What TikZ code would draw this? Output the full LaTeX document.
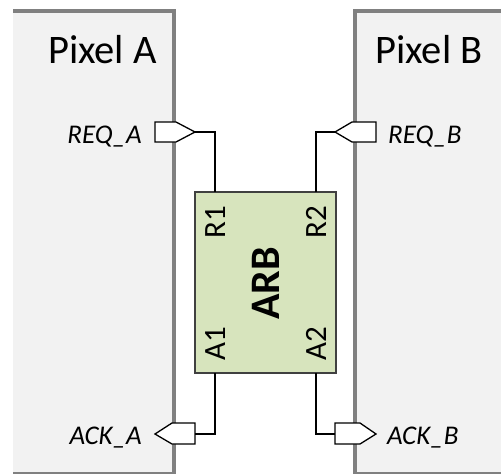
\documentclass[tikz,border=0pt]{standalone}
\usepackage{fontspec}
\setmainfont{Carlito}
\begin{document}
\begin{tikzpicture}[x=1pt,y=-1pt,
  pixbox/.style={fill=pixfill,draw=none},
  pixborder/.style={draw=pixline,line width=3.5pt},
  port/.style={draw=black,fill=white,line width=1.3pt,line join=miter},
  wire/.style={draw=black,line width=1.3pt},
  pixlabel/.style={font=\fontsize{40.5}{44}\selectfont,inner sep=0pt},
  siglabel/.style={font=\fontsize{27}{31}\selectfont\itshape,inner sep=0pt},
  pinlabel/.style={font=\fontsize{31}{35}\selectfont,inner sep=0pt,rotate=90},
  arbbox/.style={draw=arbline,fill=arbfill,line width=1.3pt,minimum width=141pt,minimum height=181pt,inner sep=0pt}
]
\definecolor{pixfill}{HTML}{F2F2F2}
\definecolor{pixline}{HTML}{808080}
\definecolor{arbfill}{HTML}{D7E4BD}
\definecolor{arbline}{HTML}{404040}
\useasboundingbox (0,0) rectangle (501,474);
\clip (0,0) rectangle (501,474);
% Pixel A
\fill[pixbox] (13,11) rectangle (174,473.5);
\draw[pixborder] (13,11) -- (174,11) -- (174,473.5) -- (13,473.5);
% Pixel B
\fill[pixbox] (355,11) rectangle (512,473.5);
\draw[pixborder] (512,11) -- (355,11) -- (355,473.5) -- (512,473.5);
\node[pixlabel,anchor=base east] (pa) at (157,63) {Pixel A};
\node[pixlabel,anchor=base west] (pb) at (375,63) {Pixel B};
% ARB
\node[arbbox] (arb) at (265.5,282.5) {};
\node[font=\fontsize{42}{46}\selectfont\bfseries,rotate=90,inner sep=0pt] (arbl) at (265.5,283.5) {ARB};
\node[pinlabel] (r1) at (215.5,222) {R1};
\node[pinlabel] (r2) at (316,222) {R2};
\node[pinlabel] (a1) at (215.5,343.5) {A1};
\node[pinlabel] (a2) at (316,343.5) {A2};
\coordinate (r1p) at (215,192);
\coordinate (r2p) at (316,192);
\coordinate (a1p) at (215,373);
\coordinate (a2p) at (316,373);
% ports
\draw[port] (155,122) -- (176,122) -- (195,132) -- (176,142) -- (155,142) -- cycle;
\coordinate (reqa) at (195,132);
\draw[port] (376,122) -- (352,122) -- (335,132) -- (352,142) -- (376,142) -- cycle;
\coordinate (reqb) at (335,132);
\draw[port] (155,434) -- (172,423) -- (195,423) -- (195,444) -- (172,444) -- cycle;
\coordinate (acka) at (195,434);
\draw[port] (335,423) -- (360,423) -- (376,434) -- (360,444) -- (335,444) -- cycle;
\coordinate (ackb) at (335,434);
% wires
\draw[wire] (reqa) -| (r1p);
\draw[wire] (reqb) -| (r2p);
\draw[wire] (acka) -| (a1p);
\draw[wire] (ackb) -| (a2p);
% signal labels
\node[siglabel,anchor=base east] (lreqa) at (142,143) {REQ\_A};
\node[siglabel,anchor=base west] (lreqb) at (388,143) {REQ\_B};
\node[siglabel,anchor=base east] (lacka) at (142,444) {ACK\_A};
\node[siglabel,anchor=base west] (lackb) at (387,444) {ACK\_B};
\end{tikzpicture}
\end{document}
